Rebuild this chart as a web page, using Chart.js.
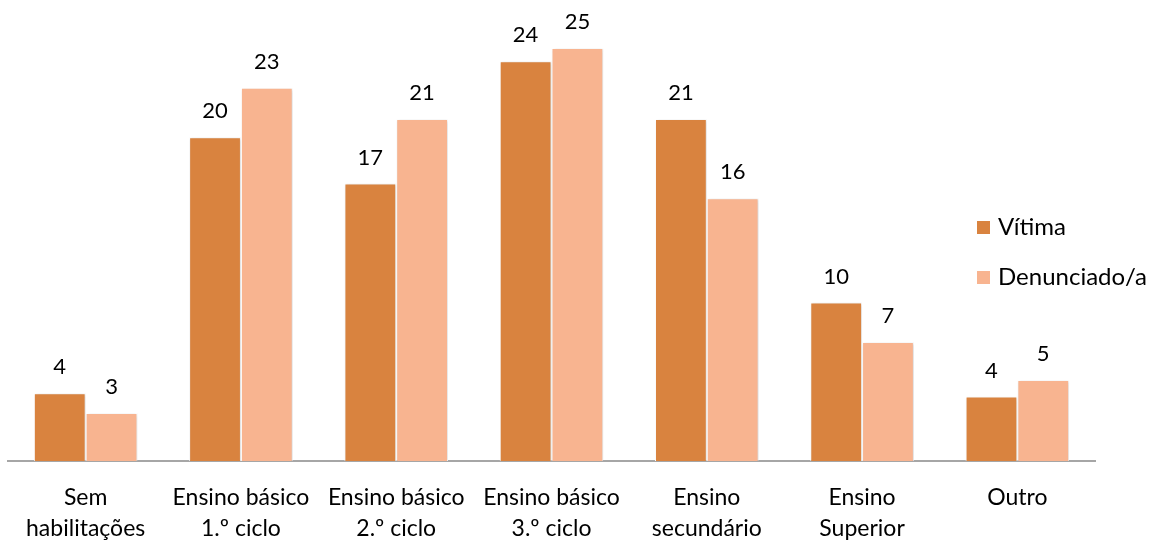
<!DOCTYPE HTML>
<html>
<head>
    <meta charset="utf-8">
    <script src="https://cdn.jsdelivr.net/npm/chart.js"></script>
    <style>
        body { margin: 0; background: white; }
        #wrap { position: relative; width: 1160px; height: 542px; }
        #legend { position: absolute; left: 977px; top: 208px; font-family: Lato, sans-serif; font-size: 24px; color: #000; }
        #legend div { height: 50px; line-height: 36px; }
        #legend span.box { display: inline-block; width: 13px; height: 13px; margin-right: 8px; vertical-align: 1px; }
    </style>
</head>
<body>

<div id="wrap">
    <canvas id="eduChart" width="1160" height="542"></canvas>
    <div id="legend"></div>
</div>

<script type="text/javascript">
    const categories = [
        ['Sem', 'habilitações'],
        ['Ensino básico', '1.º ciclo'],
        ['Ensino básico', '2.º ciclo'],
        ['Ensino básico', '3.º ciclo'],
        ['Ensino', 'secundário'],
        ['Ensino', 'Superior'],
        'Outro'
    ];
    const vitima = [4.1, 19.6, 16.8, 24.2, 20.7, 9.6, 3.9];
    const denunciado = [2.9, 22.6, 20.7, 25.0, 15.9, 7.2, 4.9];
    const seriesNames = ['Vítima', 'Denunciado/a'];
    const seriesColors = ['#D9833F', '#F8B490'];

    // labels above bars (no datalabels plugin available offline)
    const barLabels = {
        id: 'barLabels',
        afterDatasetsDraw(chart) {
            const ctx = chart.ctx;
            ctx.save();
            ctx.font = '22px Lato, sans-serif';
            ctx.fillStyle = '#000';
            ctx.textAlign = 'center';
            ctx.textBaseline = 'middle';
            chart.data.datasets.forEach(function (ds, i) {
                chart.getDatasetMeta(i).data.forEach(function (bar, j) {
                    ctx.fillText(Math.round(ds.data[j]), bar.x, bar.y - 26);
                });
            });
            ctx.restore();
        }
    };

    const barShadow = {
        id: 'barShadow',
        beforeDatasetsDraw(chart) {
            const ctx = chart.ctx;
            ctx.save();
            ctx.shadowColor = 'rgba(0,0,0,0.18)';
            ctx.shadowBlur = 3;
            ctx.shadowOffsetX = 1;
            ctx.shadowOffsetY = 1;
        },
        afterDatasetsDraw(chart) {
            chart.ctx.restore();
        }
    };

    const chart = new Chart(document.getElementById('eduChart'), {
        type: 'bar',
        data: {
            labels: categories,
            datasets: [{
                label: seriesNames[0],
                data: vitima,
                backgroundColor: seriesColors[0],
                borderColor: '#ffffff',
                borderWidth: 1
            }, {
                label: seriesNames[1],
                data: denunciado,
                backgroundColor: seriesColors[1],
                borderColor: '#ffffff',
                borderWidth: 1
            }]
        },
        options: {
            responsive: false,
            animation: false,
            layout: { padding: { left: 8, right: 65, top: 15, bottom: 0 } },
            datasets: { bar: { categoryPercentage: 0.667, barPercentage: 1.0 } },
            plugins: {
                legend: { display: false },
                tooltip: { enabled: false }
            },
            scales: {
                x: {
                    grid: { display: false },
                    border: { display: true, color: '#A6A6A6', width: 2 },
                    ticks: {
                        color: '#000',
                        font: { family: 'Lato, sans-serif', size: 23, lineHeight: 1.35 },
                        padding: 13,
                        maxRotation: 0,
                        autoSkip: false
                    },
                    afterFit: function (scale) {
                        scale.height = 81;
                    }
                },
                y: {
                    display: false,
                    min: 0,
                    max: 27
                }
            }
        },
        plugins: [barShadow, barLabels]
    });

    let html = '';
    for (let i = 0; i < seriesNames.length; i++) {
        html += '<div><span class="box" style="background:' + seriesColors[i] + '"></span>' + seriesNames[i] + '</div>';
    }
    document.getElementById('legend').innerHTML = html;
</script>
</body>
</html>
